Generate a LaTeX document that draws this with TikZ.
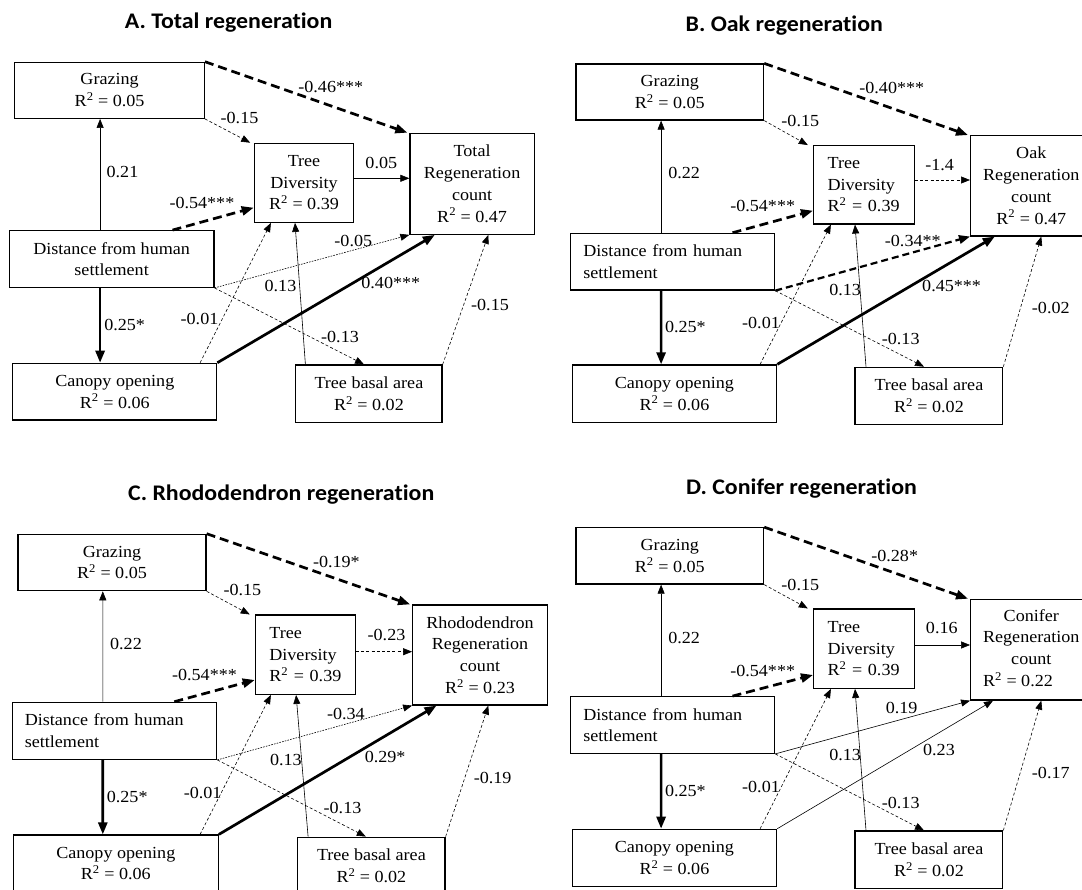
\documentclass[tikz,border=0pt]{standalone}
\usepackage{fontspec}
\setmainfont{Liberation Serif}[FakeStretch=1.07]
\newfontfamily\titlefont{Carlito}[FakeStretch=1.07,Ligatures=NoCommon]
\usetikzlibrary{arrows.meta,calc}
\tikzset{
  box/.style={draw, line width=1.2pt, inner sep=0pt, align=center,
    font=\fontsize{16.9}{21.7}\selectfont},
  lbox/.style={box, align=left},
  lbl/.style={inner sep=0pt, font=\fontsize{16.9}{20}\selectfont},
  ttl/.style={inner sep=0pt, font=\titlefont\bfseries\fontsize{22.3}{26}\selectfont},
  thin/.style={-{Triangle[length=9pt,width=7pt]}, line width=0.6pt},
  thindash/.style={thin, dash pattern=on 3pt off 2.2pt},
  thindot/.style={thin, dash pattern=on 1.6pt off 1.2pt},
  thick/.style={-{Triangle[length=12pt,width=9pt]}, line width=2.7pt},
  thickdash/.style={thick, dash pattern=on 9pt off 5pt},
  middash/.style={-{Triangle[length=11pt,width=8.5pt]}, line width=2.2pt, dash pattern=on 7pt off 4pt},
}
\newcommand\Rsq[1]{R\textsuperscript{2} = #1}
\newcommand\regen{regenerat\kern0pt ion}
\begin{document}
\begin{tikzpicture}[x=1pt,y=-1pt]
\clip (0,0) rectangle (1082,890);
\fill[white] (0,0) rectangle (1082,890);

%================ Panel A =================
\node[ttl] (A-title) at (228.6,23) {A. Total \regen};
\node[box, minimum width=189.5pt, minimum height=56pt] (A-graz) at (109.6,90.3) {Grazing\\\Rsq{0.05}};
\node[box, minimum width=99.4pt, minimum height=79pt] (A-div) at (304,182.8) {Tree\\Diversity\\\Rsq{0.39}};
\node[box, minimum width=124.3pt, minimum height=101pt] (A-tot) at (472.1,183.8) {Total\\Regeneration\\count\\\Rsq{0.47}};
\node[box, minimum width=204.6pt, minimum height=56.6pt] (A-dist) at (111.6,259) {Distance from human\\settlement};
\node[box, minimum width=203.9pt, minimum height=56.7pt] (A-can) at (114.8,391.7) {Canopy opening\\\Rsq{0.06}};
\node[box, minimum width=146.3pt, minimum height=57.7pt] (A-bas) at (368.9,393.9) {Tree basal area\\\Rsq{0.02}};

\draw[thin] ($(A-dist.north)+(-11.5,0)$) -- ($(A-graz.south)+(-9.5,0)$);
\draw[thick] ($(A-dist.south)+(-11.5,0)$) -- ($(A-can.north)+(-14.7,0)$);
\draw[thickdash] ($(A-dist.north)+(60.9,0)$) -- ($(A-div.west)+(0,24.9)$);
\draw[thindash] (A-graz.south east) -- ($(A-div.north west)+(-3.5,0)$);
\draw[thickdash] (A-graz.north east) -- ($(A-tot.north west)+(-2,0)$);
\draw[thin] ($(A-div.east)+(0,-4.5)$) -- ($(A-tot.west)+(0,-5.5)$);
\draw[thindot] (A-dist.south east) -- (A-tot.south west);
\draw[thindash] (A-dist.south east) -- ($(A-bas.north)+(-4.9,0)$);
\draw[thindash] ($(A-can.north)+(85.3,0)$) -- ($(A-div.south)+(-33.1,0)$);
\draw[thick] (A-can.north east) -- ($(A-tot.south)+(-37.3,0)$);
\draw[thin] ($(A-bas.north)+(-63.5,0)$) -- ($(A-div.south)+(-9,0)$);
\draw[thindash] (A-bas.north east) -- ($(A-tot.south)+(16.2,0)$);

\node[lbl] (A-l1) at (122.5,171.7) {0.21};
\node[lbl] (A-l2) at (124.6,325) {0.25*};
\node[lbl] (A-l3) at (201.9,203.3) {-0.54***};
\node[lbl] (A-l4) at (239.5,118.3) {-0.15};
\node[lbl] (A-l5) at (330.8,86.7) {-0.46***};
\node[lbl] (A-l6) at (381.3,163.3) {0.05};
\node[lbl] (A-l7) at (353.3,240.7) {-0.05};
\node[lbl] (A-l8) at (340,336.7) {-0.13};
\node[lbl] (A-l9) at (199.5,319.3) {-0.01};
\node[lbl] (A-l10) at (390.8,283.3) {0.40***};
\node[lbl] (A-l11) at (280.5,286) {0.13};
\node[lbl] (A-l12) at (490,305) {-0.15};

%================ Panel B =================
\node[ttl] (B-title) at (784.3,25.5) {B. Oak \regen};
\node[box, minimum width=187.7pt, minimum height=56pt] (B-graz) at (669.8,92) {Grazing\\\Rsq{0.05}};
\node[lbox, inner xsep=14pt, text width=72.8pt, minimum width=100.8pt, minimum height=78.3pt] (B-div) at (864,184.8) {Tree\\Diversity\\\Rsq{0.39}};
\node[box, minimum width=121.4pt, minimum height=100.3pt] (B-oak) at (1031.3,185.8) {Oak\\Regeneration\\count\\\Rsq{0.47}};
\node[lbox, inner xsep=13pt, text width=178.3pt, minimum width=204.3pt, minimum height=56.7pt] (B-dist) at (672.5,261.7) {Distance from human\\settlement};
\node[box, minimum width=204.6pt, minimum height=57.7pt] (B-can) at (674.4,393.8) {Canopy opening\\\Rsq{0.06}};
\node[box, minimum width=147.7pt, minimum height=57pt] (B-bas) at (928.9,395.8) {Tree basal area\\\Rsq{0.02}};

\draw[thin] ($(B-dist.north)+(-11.4,0)$) -- ($(B-graz.south)+(-8.7,0)$);
\draw[thick] ($(B-dist.south)+(-11.4,0)$) -- ($(B-can.north)+(-13.3,0)$);
\draw[thickdash] ($(B-dist.north)+(60,0)$) -- ($(B-div.west)+(0,25.9)$);
\draw[thindash] (B-graz.south east) -- ($(B-div.north west)+(-5.2,0)$);
\draw[thickdash] (B-graz.north east) -- ($(B-oak.north west)+(-2,0)$);
\draw[thindash] ($(B-div.east)+(0,-4.8)$) -- ($(B-oak.west)+(0,-5.8)$);
\draw[middash] (B-dist.south east) -- (B-oak.south west);
\draw[thindash] (B-dist.south east) -- ($(B-bas.north)+(-4.9,0)$);
\draw[thindash] ($(B-can.north)+(85.7,0)$) -- ($(B-div.south)+(-33.1,0)$);
\draw[thick] (B-can.north east) -- ($(B-oak.south)+(-36.5,0)$);
\draw[thin] ($(B-bas.north)+(-62.9,0)$) -- ($(B-div.south)+(-9,0)$);
\draw[thindash] (B-bas.north east) -- ($(B-oak.south)+(10,0)$);

\node[lbl] (B-l1) at (684.2,173.3) {0.22};
\node[lbl] (B-l2) at (685.4,327.3) {0.25*};
\node[lbl] (B-l3) at (762.7,206) {-0.54***};
\node[lbl] (B-l4) at (800.3,120.7) {-0.15};
\node[lbl] (B-l5) at (891.8,88.3) {-0.40***};
\node[lbl] (B-l6) at (939.6,165) {-1.4};
\node[lbl] (B-l7) at (912.8,240.7) {-0.34**};
\node[lbl] (B-l8) at (900.7,339.3) {-0.13};
\node[lbl] (B-l9) at (761,322.7) {-0.01};
\node[lbl] (B-l10) at (951.6,286) {0.45***};
\node[lbl] (B-l11) at (845.2,290) {0.13};
\node[lbl] (B-l12) at (1050.8,308.3) {-0.02};

%================ Panel C =================
\node[ttl] (C-title) at (281.2,495) {C. Rhododendron \regen};
\node[box, minimum width=188.1pt, minimum height=56.4pt] (C-graz) at (112,562.5) {Grazing\\\Rsq{0.05}};
\node[lbox, inner xsep=14pt, text width=72.1pt, minimum width=100.1pt, minimum height=79.3pt] (C-div) at (305.4,654.7) {Tree\\Diversity\\\Rsq{0.39}};
\node[box, minimum width=134.6pt, minimum height=100pt] (C-rho) at (480,655) {Rhododendron\\Regeneration\\count\\\Rsq{0.23}};
\node[lbox, inner xsep=12.7pt, text width=179.2pt, minimum width=204.6pt, minimum height=57pt] (C-dist) at (114.4,730.8) {Distance from human\\settlement};
\node[box, minimum width=205pt, minimum height=57pt] (C-can) at (115.8,863.5) {Canopy opening\\\Rsq{0.06}};
\node[box, minimum width=147.3pt, minimum height=57pt] (C-bas) at (371.4,865.7) {Tree basal area\\\Rsq{0.02}};

\draw[thin] ($(C-dist.north)+(-11.6,0)$) -- ($(C-graz.south)+(-9.2,0)$);
\draw[thick] ($(C-dist.south)+(-11.6,0)$) -- ($(C-can.north)+(-13,0)$);
\draw[thickdash] ($(C-dist.north)+(59.9,0)$) -- ($(C-div.west)+(0,25.3)$);
\draw[thindash] (C-graz.south east) -- ($(C-div.north west)+(-5,0)$);
\draw[thickdash] (C-graz.north east) -- ($(C-rho.north west)+(-2,0)$);
\draw[thindash] ($(C-div.east)+(0,-3)$) -- ($(C-rho.west)+(0,-3.3)$);
\draw[thindot] (C-dist.south east) -- (C-rho.south west);
\draw[thindash] (C-dist.south east) -- ($(C-bas.north)+(-5.6,0)$);
\draw[thindash] ($(C-can.north)+(84.3,0)$) -- ($(C-div.south)+(-34.5,0)$);
\draw[thick] (C-can.north east) -- ($(C-rho.south)+(-43.5,0)$);
\draw[thin] ($(C-bas.north)+(-63.3,0)$) -- ($(C-div.south)+(-9.3,0)$);
\draw[thindash] (C-bas.north east) -- ($(C-rho.south)+(8.3,0)$);

\node[lbl] (C-l1) at (126,644.3) {0.22};
\node[lbl] (C-l2) at (127.2,796.7) {0.25*};
\node[lbl] (C-l3) at (204.5,675) {-0.54***};
\node[lbl] (C-l4) at (242.4,590) {-0.15};
\node[lbl] (C-l5) at (336.4,561.7) {-0.19*};
\node[lbl] (C-l6) at (386.5,635) {-0.23};
\node[lbl] (C-l7) at (345.9,714.3) {-0.34};
\node[lbl] (C-l8) at (342.5,808.3) {-0.13};
\node[lbl] (C-l9) at (202.7,792.7) {-0.01};
\node[lbl] (C-l10) at (385.1,756.7) {0.29*};
\node[lbl] (C-l11) at (285.9,760) {0.13};
\node[lbl] (C-l12) at (492.6,777.7) {-0.19};

%================ Panel D =================
\node[ttl] (D-title) at (801.5,489) {D. Conifer \regen};
\node[box, minimum width=187.7pt, minimum height=56.3pt] (D-graz) at (669.8,555.9) {Grazing\\\Rsq{0.05}};
\node[lbox, inner xsep=14pt, text width=72.8pt, minimum width=100.8pt, minimum height=79.3pt] (D-div) at (864,648.7) {Tree\\Diversity\\\Rsq{0.39}};
\node[box, minimum width=121.3pt, minimum height=100.7pt] (D-con) at (1031.3,649.7) {Conifer\\Regeneration\\count\\\makebox[0pt][l]{\Rsq{0.22}}\phantom{Regeneration}};
\node[lbox, inner xsep=13pt, text width=178.3pt, minimum width=204.3pt, minimum height=56.6pt] (D-dist) at (672.5,725) {Distance from human\\settlement};
\node[box, minimum width=204.6pt, minimum height=57.4pt] (D-can) at (674.4,858) {Canopy opening\\\Rsq{0.06}};
\node[box, minimum width=147.7pt, minimum height=57.3pt] (D-bas) at (928.9,859.7) {Tree basal area\\\Rsq{0.02}};

\draw[thin] ($(D-dist.north)+(-11.4,0)$) -- ($(D-graz.south)+(-8.7,0)$);
\draw[thick] ($(D-dist.south)+(-11.4,0)$) -- ($(D-can.north)+(-13.3,0)$);
\draw[thickdash] ($(D-dist.north)+(60,0)$) -- ($(D-div.west)+(0,26.3)$);
\draw[thindash] (D-graz.south east) -- ($(D-div.north west)+(-5.2,0)$);
\draw[thickdash] (D-graz.north east) -- ($(D-con.north west)+(-2,0)$);
\draw[thin] ($(D-div.east)+(0,-3.7)$) -- ($(D-con.west)+(0,-4.7)$);
\draw[thin] (D-dist.south east) -- (D-con.south west);
\draw[thindash] (D-dist.south east) -- ($(D-bas.north)+(-4.9,0)$);
\draw[thindash] ($(D-can.north)+(85.7,0)$) -- ($(D-div.south)+(-33.1,0)$);
\draw[thin] (D-can.north east) -- ($(D-con.south)+(-38.3,0)$);
\draw[thin] ($(D-bas.north)+(-62.9,0)$) -- ($(D-div.south)+(-9,0)$);
\draw[thindash] (D-bas.north east) -- ($(D-con.south)+(10,0)$);

\node[lbl] (D-l1) at (684.2,637.7) {0.22};
\node[lbl] (D-l2) at (685.4,791) {0.25*};
\node[lbl] (D-l3) at (762.7,671) {-0.54***};
\node[lbl] (D-l4) at (800.3,585) {-0.15};
\node[lbl] (D-l5) at (894.7,555.7) {-0.28*};
\node[lbl] (D-l6) at (941.8,628.3) {0.16};
\node[lbl] (D-l7) at (901.6,708.3) {0.19};
\node[lbl] (D-l8) at (900.7,803.3) {-0.13};
\node[lbl] (D-l9) at (761,786.7) {-0.01};
\node[lbl] (D-l10) at (939,750) {0.23};
\node[lbl] (D-l11) at (845.2,755) {0.13};
\node[lbl] (D-l12) at (1050.8,773.3) {-0.17};
\end{tikzpicture}
\end{document}
